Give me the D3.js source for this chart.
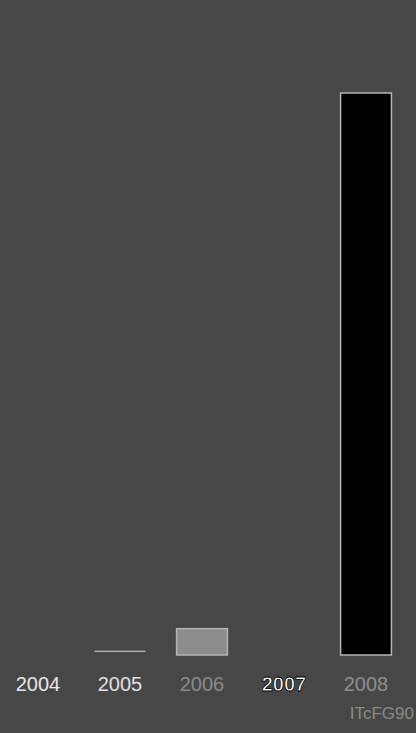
<!DOCTYPE html>
<html>
<head>
<meta charset="utf-8">
<script src="https://cdn.jsdelivr.net/npm/d3@7"></script>
<style>
  html, body { margin: 0; padding: 0; background: #474747; }
  svg { display: block; }
</style>
</head>
<body>
<div id="chart"></div>
<script>
// bar chart: counts per year, one huge bar in 2008
var years = ["2004", "2005", "2006", "2007", "2008"];
var counts = [0, 1, 6, 0, 128];
var note = "ITcFG90";

var width = 416,
    height = 733;

// per-year look (the picture is dithered, bars come out differently)
var barFill = { "2005": "#b0b0b0", "2006": "#8c8c8c", "2008": "#000" };
var labelFill = { "2004": "#e6e6e6", "2005": "#e0e0e0", "2006": "#8a8a8a", "2007": "#fff", "2008": "#8e8e8e" };

var svg = d3.select("#chart").append("svg")
    .attr("width", width)
    .attr("height", height);

svg.append("rect")
    .attr("width", width)
    .attr("height", height)
    .attr("fill", "#474747");

var x = d3.scaleBand()
    .domain(years)
    .range([-3, 407])
    .paddingInner(0.38)
    .paddingOuter(0.19);

var y = d3.scaleLinear()
    .domain([0, d3.max(counts)])
    .range([655, 93]);

var data = years.map(function(d, i) { return { year: d, n: counts[i] }; });

svg.selectAll("rect.bar")
    .data(data.filter(function(d) { return d.n > 0; }))
    .enter().append("rect")
    .attr("class", "bar")
    .attr("x", function(d) { return x(d.year); })
    .attr("y", function(d) { return y(d.n); })
    .attr("width", x.bandwidth())
    .attr("height", function(d) { return d.year == "2005" ? 1.5 : y(0) - y(d.n); })
    .attr("fill", function(d) { return barFill[d.year]; })
    .attr("stroke", function(d) { return d.year == "2005" ? "none" : "#b5b5b5"; })
    .attr("stroke-width", 1.5);

// year labels under the bars
var axis = d3.axisBottom(x).tickSize(0).tickPadding(0);
var g = svg.append("g")
    .attr("transform", "translate(0,676)")
    .call(axis);
g.select(".domain").remove();
g.selectAll("text")
    .attr("dy", "0.76em")
    .attr("font-family", "'Liberation Sans', Arial, sans-serif")
    .attr("font-size", 20)
    .attr("fill", function(d) { return labelFill[d]; })
    .attr("stroke", function(d) { return d == "2007" ? "#000" : "none"; })
    .attr("stroke-width", 0.8)
    .attr("font-weight", function(d) { return d == "2007" ? "bold" : "normal"; });

// faint note bottom right
svg.append("text")
    .attr("x", 414)
    .attr("y", 719)
    .attr("text-anchor", "end")
    .attr("font-family", "'Liberation Sans', Arial, sans-serif")
    .attr("font-size", 17)
    .attr("fill", "#8a8a8a")
    .text(note);
</script>
</body>
</html>
